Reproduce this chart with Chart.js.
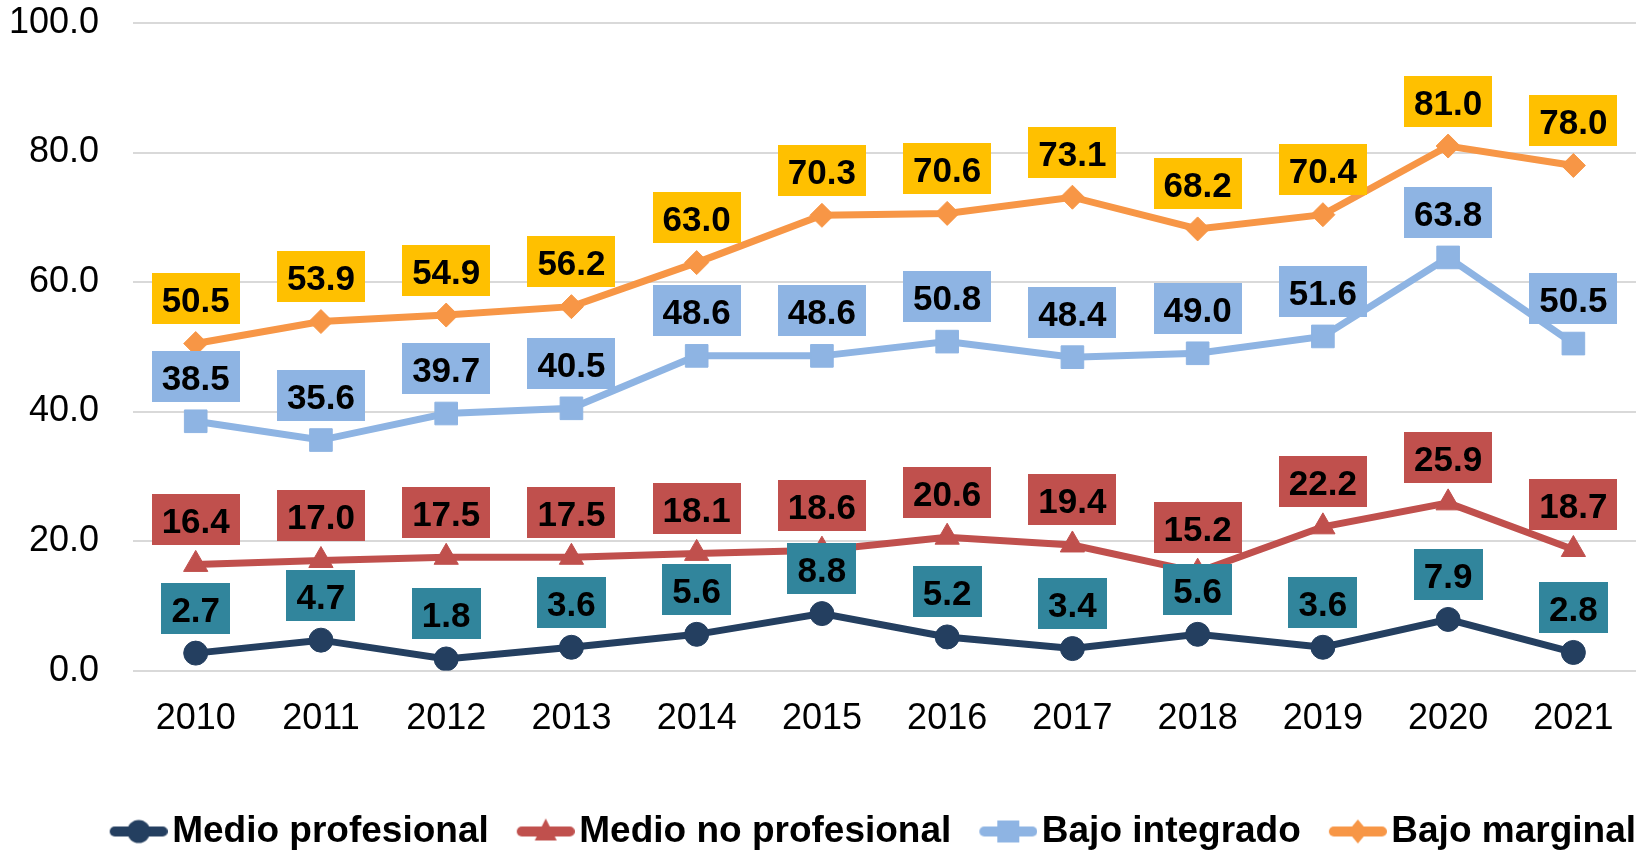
<!DOCTYPE html>
<html>
<head>
<meta charset="utf-8">
<script src="https://cdn.jsdelivr.net/npm/chart.js@4"></script>
<style>
  html, body { margin: 0; padding: 0; background: #fff; }
  #wrap { width: 1641px; height: 852px; position: relative; }
</style>
</head>
<body>
<div id="wrap"><canvas id="c"></canvas></div>
<script>
const years = ['2010','2011','2012','2013','2014','2015','2016','2017','2018','2019','2020','2021'];
const seriesNames = ['Medio profesional', 'Medio no profesional', 'Bajo integrado', 'Bajo marginal'];
const medioProfesional   = [2.7, 4.7, 1.8, 3.6, 5.6, 8.8, 5.2, 3.4, 5.6, 3.6, 7.9, 2.8];
const medioNoProfesional = [16.4, 17.0, 17.5, 17.5, 18.1, 18.6, 20.6, 19.4, 15.2, 22.2, 25.9, 18.7];
const bajoIntegrado      = [38.5, 35.6, 39.7, 40.5, 48.6, 48.6, 50.8, 48.4, 49.0, 51.6, 63.8, 50.5];
const bajoMarginal       = [50.5, 53.9, 54.9, 56.2, 63.0, 70.3, 70.6, 73.1, 68.2, 70.4, 81.0, 78.0];
const yTicks = [0, 20, 40, 60, 80, 100];

const lineColors  = ['#243F60', '#C0504D', '#8EB4E3', '#F79646'];
const labelColors = ['#31859C', '#C0504D', '#8EB4E3', '#FFC000'];
const pointStyles = ['circle', 'triangle', 'rect', 'rectRot'];
const pointRadii  = [12, 14, 16, 12];

const FONT = '"Liberation Sans", Arial, Helvetica, sans-serif';
Chart.defaults.font.family = FONT;
Chart.defaults.color = '#000';

function legendIcon(color, shape) {
  const c = document.createElement('canvas');
  c.width = 100; c.height = 28;
  const g = c.getContext('2d');
  g.strokeStyle = color; g.fillStyle = color;
  g.lineWidth = 10; g.lineCap = 'round';
  g.beginPath(); g.moveTo(47, 14); g.lineTo(95, 14); g.stroke();
  const cx = 71, cy = 14;
  g.beginPath();
  if (shape === 'circle') {
    g.arc(cx, cy, 11.5, 0, Math.PI * 2);
  } else if (shape === 'triangle') {
    g.moveTo(cx, cy - 13); g.lineTo(cx + 11, cy + 9); g.lineTo(cx - 11, cy + 9); g.closePath();
  } else if (shape === 'rect') {
    g.rect(cx - 11, cy - 11, 22, 22);
  } else {
    g.moveTo(cx, cy - 12); g.lineTo(cx + 10, cy); g.lineTo(cx, cy + 12); g.lineTo(cx - 10, cy); g.closePath();
  }
  g.fill();
  return c;
}
const legendIcons = pointStyles.map((s, i) => legendIcon(lineColors[i], s));

const valueBoxes = {
  id: 'valueBoxes',
  afterDatasetsDraw(chart) {
    const ctx = chart.ctx;
    ctx.save();
    ctx.font = 'bold 35px ' + FONT;
    ctx.textAlign = 'center';
    ctx.textBaseline = 'alphabetic';
    chart.data.datasets.forEach((ds, di) => {
      const meta = chart.getDatasetMeta(di);
      if (!chart.isDatasetVisible(di)) return;
      meta.data.forEach((pt, i) => {
        const txt = Number(ds.data[i]).toFixed(1);
        const w = Math.round(ctx.measureText(txt).width + 20);
        const h = 51;
        const cx = pt.x, cy = pt.y - 45;
        ctx.fillStyle = labelColors[di];
        ctx.fillRect(Math.round(cx - w / 2), Math.round(cy - h / 2), w, h);
        ctx.fillStyle = '#000';
        ctx.fillText(txt, cx, cy + 13.5);
      });
    });
    ctx.restore();
  }
};

const seriesData = [medioProfesional, medioNoProfesional, bajoIntegrado, bajoMarginal];
const datasets = seriesData.map((d, i) => ({
  label: seriesNames[i],
  data: d,
  borderColor: lineColors[i],
  backgroundColor: lineColors[i],
  borderWidth: 7,
  pointStyle: pointStyles[i],
  pointRadius: pointRadii[i],
  pointBorderWidth: 1,
  pointBackgroundColor: lineColors[i],
  pointBorderColor: lineColors[i],
  tension: 0,
  fill: false
}));

new Chart(document.getElementById('c'), {
  type: 'line',
  data: { labels: years, datasets },
  plugins: [valueBoxes],
  options: {
    responsive: true,
    maintainAspectRatio: false,
    animation: false,
    layout: { autoPadding: false, padding: { top: 23, left: 9, right: 5, bottom: -8 } },
    plugins: {
      tooltip: { enabled: false },
      legend: {
        position: 'bottom',
        align: 'end',
        labels: {
          usePointStyle: true,
          pointStyleWidth: 72,
          padding: 0,
          color: '#000',
          font: { size: 37, weight: 'bold' },
          generateLabels(chart) {
            const items = Chart.defaults.plugins.legend.labels.generateLabels(chart);
            items.forEach((it) => { it.pointStyle = legendIcons[it.datasetIndex]; });
            return items;
          }
        }
      }
    },
    scales: {
      x: {
        offset: true,
        afterFit(scale) { scale.paddingLeft = 0; scale.paddingRight = 0; },
        grid: { display: false, drawTicks: false, tickLength: 0 },
        border: { display: false },
        ticks: { font: { size: 36 }, padding: 27, maxRotation: 0, autoSkip: false, color: '#000' },
        title: { display: true, text: ' ', font: { size: 1 }, padding: { top: 44, bottom: 0 } }
      },
      y: {
        min: 0, max: 100,
        afterBuildTicks(scale) { scale.ticks = yTicks.map(v => ({ value: v })); },
        afterFit(scale) { scale.width = scale.width - 34; scale.paddingTop = 0; scale.paddingBottom = 0; },
        grid: { color: '#D9D9D9', lineWidth: 2, drawTicks: false, tickLength: 0 },
        border: { display: false },
        ticks: { font: { size: 36 }, padding: 34, color: '#000', callback: v => Number(v).toFixed(1) }
      }
    }
  }
});
</script>
</body>
</html>
